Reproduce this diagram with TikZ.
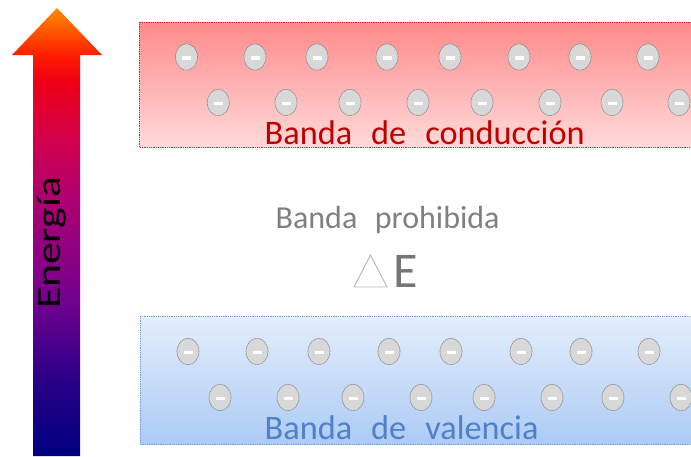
\documentclass[tikz,border=0pt]{standalone}
\usepackage{fontspec}
\setmainfont{Carlito}
\usetikzlibrary{shapes.geometric}
\definecolor{condred}{RGB}{192,0,0}
\definecolor{valblue}{RGB}{79,129,200}
\definecolor{gaptext}{RGB}{128,128,128}
\definecolor{etext}{RGB}{118,118,118}
\definecolor{tritext}{RGB}{180,180,180}
\definecolor{redtop}{RGB}{255,138,138}
\definecolor{redbot}{RGB}{255,218,218}
\definecolor{redline}{RGB}{205,40,40}
\definecolor{bluetop}{RGB}{228,238,252}
\definecolor{bluebot}{RGB}{172,203,245}
\definecolor{blueline}{RGB}{110,158,225}
\definecolor{efill}{RGB}{216,216,216}
\definecolor{eline}{RGB}{135,135,135}
\pgfdeclareverticalshading{energyshade}{100bp}{rgb(0bp)=(0,0,0.5); rgb(25bp)=(0,0,0.5); rgb(33.5bp)=(0.16,0,0.53); rgb(42.4bp)=(0.45,0,0.56); rgb(53.6bp)=(0.68,0,0.45); rgb(60.3bp)=(0.82,0,0.3); rgb(67bp)=(0.94,0,0.08); rgb(69.8bp)=(1,0.12,0); rgb(75bp)=(1,0.55,0); rgb(100bp)=(1,0.55,0)}
\tikzset{
  electron/.style={ellipse, draw=eline, dash pattern=on 1.6pt off 0.6pt, line width=0.6pt, fill=efill,
    minimum width=22pt, minimum height=26.5pt, inner sep=0pt,
    path picture={\fill[white] ([shift={(-4.5pt,-2.8pt)}]path picture bounding box.center) rectangle ++(9pt,3.4pt);}},
  bandlabel/.style={anchor=base west, inner sep=0pt, font=\fontsize{34.3}{40}\selectfont},
}
\newcommand{\wgap}{\hspace{19pt}}
\begin{document}
\begin{tikzpicture}[x=1pt,y=-1pt]
\useasboundingbox (0,0) rectangle (691,456);
\clip (0,0) rectangle (691,456);
% arrow
\path[shading=energyshade] (57,8) -- (102,55) -- (80,55) -- (80,456) -- (33,456) -- (33,55) -- (12,55) -- cycle;
\node[rotate=90, anchor=base west, inner sep=0pt, font=\fontsize{34}{40}\selectfont] (energia) at (60,309) {\scalebox{1.28}[1]{Energía}};
% conduction band
\draw[redline, densely dotted, line width=0.8pt, top color=redtop, bottom color=redbot] (139,22) rectangle (700,147);
\foreach \x [count=\i] in {186.5,255,317,387,450,519,580,648}
  \node[electron] (c1-\i) at (\x,57) {};
\foreach \x [count=\i] in {218.3,286,350,418,482,550,612,679}
  \node[electron] (c2-\i) at (\x,102.5) {};
\node[bandlabel, text=condred] (cond) at (264.5,144) {Banda\wgap de\wgap conducción};
% valence band
\draw[blueline, densely dotted, line width=0.8pt, top color=bluetop, bottom color=bluebot] (140,316) rectangle (700,444);
\foreach \x [count=\i] in {188,257,319,389,451,521,581,649}
  \node[electron] (v1-\i) at (\x,351.5) {};
\foreach \x [count=\i] in {220,288,353,421,484,552,613,681}
  \node[electron] (v2-\i) at (\x,397.5) {};
\node[bandlabel, text=valblue] (val) at (264.5,439) {Banda\wgap de\wgap valencia};
% gap
\node[anchor=base west, inner sep=0pt, text=gaptext, font=\fontsize{32}{38}\selectfont] (gap) at (275.5,228) {Banda\hspace{17.5pt}prohibida};
\draw[tritext, line width=0.9pt, line join=miter] (354,287) -- (387,287) -- (370.5,255) -- cycle;
\node[anchor=base west, inner sep=0pt, text=etext, font=\fontsize{50}{56}\selectfont] (de) at (393,287) {E};
\end{tikzpicture}
\end{document}
